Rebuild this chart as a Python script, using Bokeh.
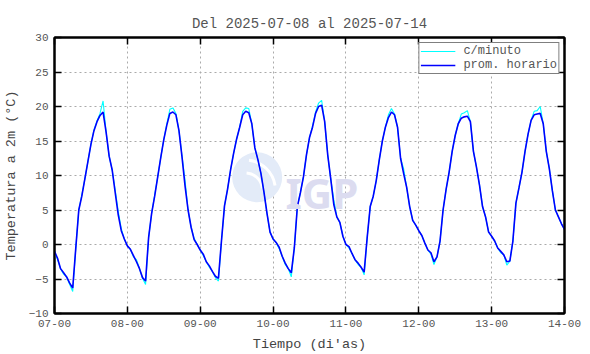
from bokeh.plotting import figure
from bokeh.models import FixedTicker, LinearAxis, Range1d, Legend, LegendItem, Label
from bokeh.embed import file_html
from bokeh.resources import INLINE

titulo = "Del 2025-07-08 al 2025-07-14"
etiquetas_x = ["07-00", "08-00", "09-00", "10-00", "11-00", "12-00", "13-00", "14-00"]
ticks_y = [-10, -5, 0, 5, 10, 15, 20, 25, 30]

# promedio horario (°C), una lista por día, hora 00..23
dia07 = [-1.0, -2.0, -3.5, -4.1, -4.7, -5.6, -6.3, -0.6, 5.0, 7.0, 9.5, 12.0,
         14.5, 16.5, 17.8, 18.7, 19.2, 16.3, 12.8, 10.8, 7.5, 4.3, 2.0, 0.8]
dia08 = [-0.2, -0.7, -1.6, -2.5, -3.5, -4.8, -5.3, 1.0, 4.5, 7.0, 9.8, 12.6,
         15.2, 17.3, 19.0, 19.2, 18.8, 16.5, 12.7, 8.5, 5.0, 2.5, 0.7, 0.0]
dia09 = [-0.8, -1.4, -2.5, -3.1, -3.9, -4.6, -4.9, 0.5, 5.6, 8.0, 10.8, 13.2,
         15.3, 17.0, 18.8, 19.3, 19.1, 17.5, 14.0, 12.3, 10.3, 7.6, 4.5, 1.8]
dia10 = [0.8, 0.3, -0.4, -1.7, -2.7, -3.5, -4.1, -0.5, 5.5, 7.5, 9.8, 13.0,
         15.5, 17.0, 19.0, 20.0, 20.2, 17.8, 13.0, 9.5, 5.8, 4.0, 3.2, 1.2]
dia11 = [0.0, -0.3, -1.3, -2.2, -2.7, -3.3, -4.0, 1.0, 5.5, 7.0, 9.3, 12.3,
         15.0, 17.0, 18.4, 19.2, 18.8, 17.0, 12.5, 10.3, 8.3, 5.5, 3.5, 2.8]
dia12 = [2.0, 1.3, 0.2, -0.8, -1.2, -2.5, -1.8, 0.5, 5.0, 8.0, 10.5, 13.5,
         15.8, 17.5, 18.3, 18.5, 18.6, 17.8, 13.5, 11.2, 8.6, 5.5, 4.0, 1.8]
dia13 = [1.2, 0.5, -0.5, -1.0, -1.5, -2.5, -2.4, 0.5, 6.0, 8.2, 10.5, 13.5,
         16.0, 18.0, 18.8, 18.9, 19.0, 17.5, 13.5, 11.0, 7.8, 5.0, 4.0, 3.0]
final14 = [2.2]

# valores c/minuto leídos (picos y valles que sobresalen del promedio)
min07 = [-1.0, -2.2, -3.5, -4.3, -4.7, -5.8, -6.8, -0.6, 5.0, 7.2, 9.5, 12.0,
         14.5, 16.6, 17.9, 19.0, 20.8, 16.3, 12.8, 10.8, 7.9, 4.8, 2.3, 0.8]
min08 = [-0.2, -0.7, -1.8, -2.2, -3.5, -4.9, -5.8, 1.0, 4.5, 7.2, 9.8, 12.6,
         15.2, 17.5, 19.6, 19.8, 19.0, 16.5, 12.9, 9.3, 5.0, 2.5, 0.9, 0.0]
min09 = [-0.8, -1.6, -2.5, -3.3, -3.9, -4.8, -5.3, 0.5, 5.6, 8.0, 10.8, 13.2,
         15.3, 17.0, 19.3, 19.8, 19.7, 17.5, 14.0, 12.3, 10.3, 7.6, 4.5, 1.8]
min10 = [0.8, 0.3, -0.6, -1.7, -2.9, -3.5, -4.7, -0.5, 5.5, 7.5, 9.8, 13.0,
         15.5, 17.2, 19.2, 20.5, 20.9, 17.8, 13.0, 9.5, 6.5, 4.0, 3.2, 1.2]
min11 = [0.0, -0.5, -1.3, -2.2, -2.9, -3.3, -4.4, 1.0, 5.5, 7.0, 9.3, 12.3,
         15.0, 17.0, 18.8, 19.7, 18.9, 17.0, 12.5, 11.0, 8.3, 5.5, 3.5, 2.8]
min12 = [2.0, 1.3, 0.2, -0.8, -1.4, -2.9, -1.8, 0.5, 5.0, 8.0, 10.5, 13.5,
         15.8, 17.5, 18.9, 19.1, 19.4, 17.8, 13.5, 11.2, 8.6, 5.5, 4.0, 1.8]
min13 = [1.2, 0.5, -0.5, -1.2, -1.5, -3.0, -2.4, 0.5, 6.0, 8.2, 10.5, 13.5,
         16.0, 18.0, 19.3, 19.4, 20.0, 17.5, 13.5, 11.0, 7.8, 5.0, 4.0, 3.0]

prom_horario = dia07 + dia08 + dia09 + dia10 + dia11 + dia12 + dia13 + final14
c_minuto = min07 + min08 + min09 + min10 + min11 + min12 + min13 + final14
horas = [i / 24 for i in range(len(prom_horario))]

FONT = "Liberation Mono"
GRIS = "#555555"

p = figure(width=590, height=354, x_range=Range1d(0, 7), y_range=Range1d(-10, 30),
           output_backend="svg", toolbar_location=None,
           min_border_left=54, min_border_right=26, min_border_top=37, min_border_bottom=41,
           background_fill_color="white", border_fill_color="white")

p.title.text = titulo
p.title.align = "center"
p.title.text_font = FONT
p.title.text_font_size = "14px"
p.title.text_font_style = "normal"
p.title.text_color = GRIS
p.title.standoff = 12

# marca de agua IGP
p.scatter(x=[2.782], y=[9.75], size=50, marker="circle", fill_color="#e3ebf8",
          line_color=None)
p.arc(x=[2.62], y=[7.9], radius=30, radius_units="screen", start_angle=0.15,
      end_angle=1.45, line_color="white", line_width=3)
p.arc(x=[2.62], y=[7.9], radius=17, radius_units="screen", start_angle=0.1,
      end_angle=1.5, line_color="white", line_width=3)
p.add_layout(Label(x=3.17, y=7.6, text="IGP", text_font="Noto Sans",
                   text_font_size="42px", text_font_style="bold",
                   text_color="#dcdcf0", text_baseline="alphabetic"))

r_min = p.line(horas, c_minuto, line_color="#00ffff", line_width=1.1)
r_hor = p.line(horas, prom_horario, line_color="#0000ff", line_width=1.6)

# ejes
p.xaxis.ticker = FixedTicker(ticks=list(range(len(etiquetas_x))))
p.xaxis.major_label_overrides = {i: t for i, t in enumerate(etiquetas_x)}
p.yaxis.ticker = FixedTicker(ticks=ticks_y)
p.xaxis.axis_label = "Tiempo (di'as)"
p.yaxis.axis_label = "Temperatura a 2m (°C)"

for ax in [p.xaxis[0], p.yaxis[0]]:
    ax.axis_line_width = 2
    ax.axis_line_color = "black"
    ax.major_tick_in = 7
    ax.major_tick_out = 0
    ax.major_tick_line_width = 1.5
    ax.major_tick_line_color = "black"
    ax.minor_tick_line_color = None
    ax.major_label_text_font = FONT
    ax.major_label_text_font_size = "11px"
    ax.major_label_text_color = GRIS
    ax.axis_label_text_font = FONT
    ax.axis_label_text_font_size = "13.5px"
    ax.axis_label_text_font_style = "normal"
    ax.axis_label_text_color = "#444444"
    ax.major_label_standoff = 6
p.xaxis[0].axis_label_standoff = 7
p.yaxis[0].axis_label_standoff = 7

ticks_x = list(range(len(etiquetas_x)))
top = LinearAxis(ticker=FixedTicker(ticks=ticks_x),
                 major_label_overrides={t: "" for t in ticks_x})
right = LinearAxis(ticker=FixedTicker(ticks=ticks_y),
                   major_label_overrides={t: "" for t in ticks_y})
for ax in [top, right]:
    ax.axis_line_width = 2
    ax.major_tick_in = 7
    ax.major_tick_out = 0
    ax.major_tick_line_width = 1.5
    ax.minor_tick_line_color = None
    ax.major_label_standoff = 0
p.add_layout(top, "above")
p.add_layout(right, "right")

p.outline_line_color = "black"
p.outline_line_width = 2

for g in [p.xgrid, p.ygrid]:
    g.grid_line_color = "#aaaaaa"
    g.grid_line_dash = "2 3"
    g.grid_line_width = 1

legend = Legend(items=[LegendItem(label="c/minuto", renderers=[r_min]),
                       LegendItem(label="prom. horario", renderers=[r_hor])],
                location="top_right")
legend.border_line_color = "black"
legend.border_line_width = 1
legend.background_fill_color = "white"
legend.background_fill_alpha = 1
legend.label_text_font = FONT
legend.label_text_font_size = "12px"
legend.label_text_line_height = 1.0
legend.label_text_color = GRIS
legend.glyph_width = 35
legend.glyph_height = 10
legend.label_height = 10
legend.spacing = 0
legend.padding = 1
legend.margin = 5
legend.label_standoff = 8
p.add_layout(legend)

open("out.html", "w").write(file_html(p, INLINE))
